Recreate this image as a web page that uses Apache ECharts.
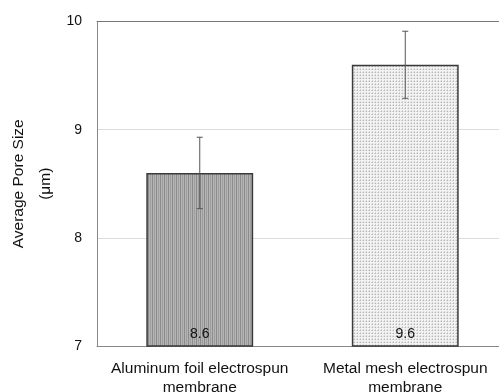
<!DOCTYPE html>
<html><head><meta charset="utf-8">
<script src="https://cdn.jsdelivr.net/npm/echarts@6/dist/echarts.min.js"></script>
<style>html,body{margin:0;padding:0;background:#fff}#c{width:499px;height:392px}</style>
</head><body><div id="c"></div>
<script>
const categories = ['Aluminum foil electrospun\nmembrane', 'Metal mesh electrospun\nmembrane'];
const values = [8.6, 9.6];
const errors = [0.33, 0.31];
const yTicks = [7, 8, 9, 10];

function stripePattern() {
  const c = document.createElement('canvas'); c.width = 4; c.height = 4;
  const g = c.getContext('2d');
  g.fillStyle = '#b4b4b4'; g.fillRect(0, 0, 4, 4);
  g.fillStyle = '#8c8c8c'; g.fillRect(0, 0, 1, 4);
  g.fillStyle = '#9e9e9e'; g.fillRect(2, 0, 1, 4);
  return c;
}
function dotPattern() {
  const c = document.createElement('canvas'); c.width = 3; c.height = 3;
  const g = c.getContext('2d');
  g.fillStyle = '#f2f2f2'; g.fillRect(0, 0, 3, 3);
  g.fillStyle = '#b8b8b8'; g.fillRect(0, 0, 1, 1);
  g.fillStyle = '#d6d6d6'; g.fillRect(0, 2, 1, 1); g.fillRect(2, 0, 1, 1);
  return c;
}
const fills = [{image: stripePattern(), repeat: 'repeat'}, {image: dotPattern(), repeat: 'repeat'}];

const chart = echarts.init(document.getElementById('c'));
const font = 'Liberation Sans, Arial, sans-serif';
chart.setOption({
  animation: false,
  grid: {left: 97, top: 21.5, bottom: 46, right: -9, containLabel: false, outerBoundsMode: 'none'},
  xAxis: [{
    type: 'category', data: categories,
    axisLine: {show: true, lineStyle: {color: '#888', width: 1}},
    axisTick: {show: false},
    axisLabel: {color: '#111', fontSize: 15.5, fontFamily: font, margin: 13, lineHeight: 19, interval: 0}
  }, {
    type: 'category', data: categories, position: 'top',
    axisLine: {show: true, lineStyle: {color: '#777', width: 1}},
    axisTick: {show: false}, axisLabel: {show: false}
  }],
  yAxis: {
    type: 'value', min: yTicks[0], max: yTicks[yTicks.length - 1], interval: 1,
    name: 'Average Pore Size\n(μm)', nameLocation: 'middle', nameGap: 38, nameMoveOverlap: false,
    nameTextStyle: {color: '#111', fontSize: 15.5, fontFamily: font, lineHeight: 27},
    axisLine: {show: true, lineStyle: {color: '#888', width: 1}},
    axisTick: {show: false},
    axisLabel: {color: '#111', fontSize: 14, fontFamily: font, margin: 15},
    splitLine: {show: true, lineStyle: {color: '#dcdcdc', width: 1}}
  },
  series: [{
    type: 'bar', barWidth: '52%',
    data: values.map((v, i) => ({value: v, itemStyle: {color: fills[i]}})),
    itemStyle: {borderColor: '#3a3a3a', borderWidth: 1.5},
    label: {show: true, position: 'insideBottom', distance: 6, color: '#111', fontSize: 14, fontFamily: font},
    z: 2
  }, {
    type: 'custom',
    data: values.map((v, i) => [i, v - errors[i], v + errors[i]]),
    renderItem: function (params, api) {
      const x = api.value(0);
      const lo = api.coord([x, api.value(1)]);
      const hi = api.coord([x, api.value(2)]);
      const w = 3;
      const st = {stroke: '#555', lineWidth: 1};
      return {type: 'group', children: [
        {type: 'line', shape: {x1: lo[0], y1: lo[1], x2: hi[0], y2: hi[1]}, style: st},
        {type: 'line', shape: {x1: lo[0] - w, y1: lo[1], x2: lo[0] + w, y2: lo[1]}, style: st},
        {type: 'line', shape: {x1: hi[0] - w, y1: hi[1], x2: hi[0] + w, y2: hi[1]}, style: st}
      ]};
    },
    z: 5
  }]
});
</script></body></html>
